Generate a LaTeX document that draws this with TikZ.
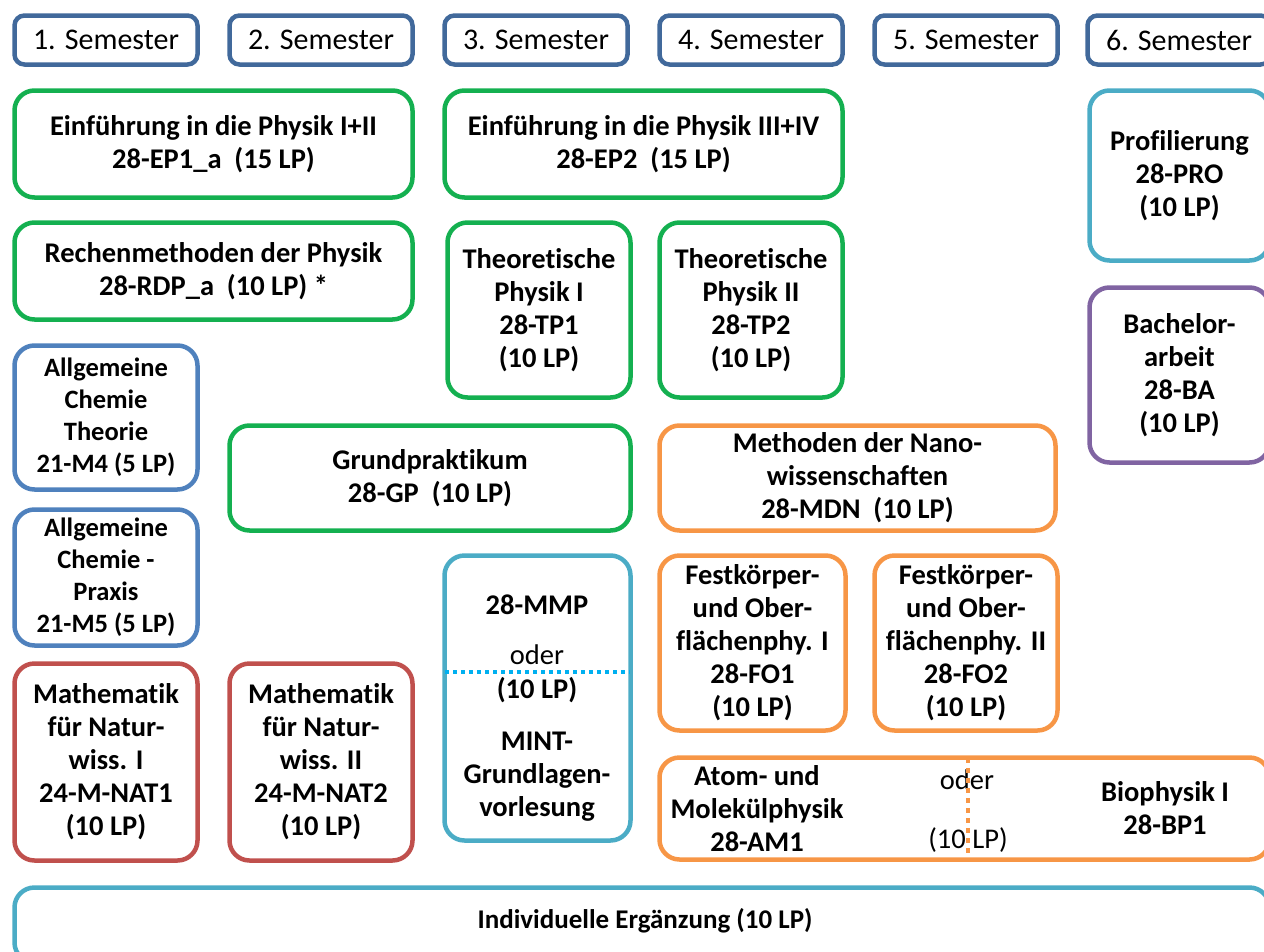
\documentclass[tikz,border=0pt]{standalone}
\usepackage{fontspec}
\setmainfont{Carlito}[Ligatures=NoCommon]
\definecolor{hdr}{RGB}{65,105,155}
\definecolor{grn}{RGB}{20,176,80}
\definecolor{blu}{RGB}{79,129,189}
\definecolor{red1}{RGB}{192,80,77}
\definecolor{org}{RGB}{247,150,70}
\definecolor{teal1}{RGB}{75,172,198}
\definecolor{pur}{RGB}{128,100,162}
\definecolor{cyn}{RGB}{0,176,240}
\tikzset{
  mbox/.style={draw, line width=4.5pt, rounded corners=20pt, align=center, inner sep=0pt,
    font=\fontsize{28.5}{33}\selectfont\bfseries, text=black},
  hbox/.style={draw=hdr, line width=4.5pt, rounded corners=10pt, inner sep=0pt,
    minimum width=183pt, minimum height=49pt, font=\fontsize{30}{33}\selectfont},
  txt/.style={align=center, inner sep=0pt, font=\fontsize{28.5}{33}\selectfont\bfseries},
}
\begin{document}
\begin{tikzpicture}[x=1pt,y=-1pt]
\useasboundingbox (0,0) rectangle (1264,951);
% semester headers
\node[hbox] (s1) at (106,40) {1. Semester};
\node[hbox] (s2) at (321,40) {2. Semester};
\node[hbox] (s3) at (536,40) {3. Semester};
\node[hbox] (s4) at (751,40) {4. Semester};
\node[hbox] (s5) at (966,40) {5. Semester};
\node[hbox] (s6) at (1179,40) {6. Semester};
% row boxes
\node[mbox, draw=grn, minimum width=398pt, minimum height=107pt] (ep1) at (213.5,144) {Einführung in die Physik I+II\\28-EP1\_a~~(15 LP)};
\node[mbox, draw=grn, minimum width=398pt, minimum height=107pt] (ep2) at (643.5,144) {Einführung in die Physik III+IV\\28-EP2~~(15 LP)};
\node[mbox, draw=grn, minimum width=398pt, minimum height=97pt] (rdp) at (213.5,271) {Rechenmethoden der Physik\\28-RDP\_a~~(10 LP) *};
\node[mbox, draw=grn, minimum width=183pt, minimum height=175pt] (tp1) at (539,310) {Theoretische\\Physik I\\28-TP1\\(10 LP)};
\node[mbox, draw=grn, minimum width=183pt, minimum height=175pt] (tp2) at (751,310) {Theoretische\\Physik II\\28-TP2\\(10 LP)};
\node[mbox, draw=blu, minimum width=183pt, minimum height=144pt, font=\fontsize{26.5}{32}\selectfont\bfseries] (act) at (106,417.5) {Allgemeine\\Chemie\\Theorie\\21-M4 (5 LP)};
\node[mbox, draw=blu, minimum width=183pt, minimum height=136pt, font=\fontsize{26.5}{32}\selectfont\bfseries] (acp) at (106,577.5) {Allgemeine\\Chemie -\\Praxis\\21-M5 (5 LP)};
\node[mbox, draw=grn, minimum width=401pt, minimum height=105pt] (gp) at (430,478) {Grundpraktikum\\28-GP~~(10 LP)};
\node[mbox, draw=org, minimum width=396pt, minimum height=105pt] (mdn) at (857.5,478) {Methoden der Nano-\\wissenschaften\\28-MDN~~(10 LP)};
\node[mbox, draw=teal1, minimum width=186pt, minimum height=285pt] (mmp) at (537.5,698) {};
\node[mbox, draw=org, minimum width=186pt, minimum height=175pt] (fo1) at (752.5,643) {Festkörper-\\und Ober-\\flächenphy. I\\28-FO1\\(10 LP)};
\node[mbox, draw=org, minimum width=183pt, minimum height=175pt] (fo2) at (966,643) {Festkörper-\\und Ober-\\flächenphy. II\\28-FO2\\(10 LP)};
\node[mbox, draw=red1, minimum width=183pt, minimum height=197pt] (m1) at (106,762) {Mathematik\\für Natur-\\wiss. I\\24-M-NAT1\\(10 LP)};
\node[mbox, draw=red1, minimum width=183pt, minimum height=197pt] (m2) at (321,762) {Mathematik\\für Natur-\\wiss. II\\24-M-NAT2\\(10 LP)};
\node[mbox, draw=org, minimum width=610pt, minimum height=102pt] (ambp) at (964.5,808.5) {};
\node[mbox, draw=teal1, minimum width=180pt, minimum height=170pt] (pro) at (1179.5,175.5) {Profilierung\\28-PRO\\(10 LP)};
\node[mbox, draw=pur, minimum width=180pt, minimum height=175pt] (ba) at (1179.5,375) {Bachelor-\\arbeit\\28-BA\\(10 LP)};
\node[mbox, draw=teal1, minimum width=1255pt, minimum height=75pt] (ie) at (642,925) {};
\node[txt, font=\fontsize{27}{30}\selectfont\bfseries] (ietxt) at (645,921) {Individuelle Ergänzung (10 LP)};
% MMP contents
\coordinate (mmpl) at (445,672);
\coordinate (mmpr) at (630,672);
\draw[cyn, line width=4pt, dash pattern=on 4pt off 4pt] (mmpl) -- (mmpr);
\node[txt] (mmp1) at (537,605) {28-MMP};
\node[txt, font=\fontsize{28.5}{33}\selectfont] (mmp2) at (537,655) {oder};
\node[txt] (mmp3) at (537,690) {(10 LP)};
\node[txt] (mmp4) at (537,777) {MINT-\\Grundlagen-\\vorlesung};
% AM / BP contents
\coordinate (ambt) at (968,758);
\coordinate (ambb) at (968,860);
\node[txt] (am) at (757,809) {Atom- und\\Molekülphysik\\28-AM1};
\node[txt, font=\fontsize{28.5}{33}\selectfont] (oder2) at (967,780) {oder};
\node[txt, font=\fontsize{28.5}{33}\selectfont] (lp2) at (968,840) {(10 LP)};
\draw[org, line width=4pt, dash pattern=on 5pt off 5pt] (ambt) -- (ambb);
\node[txt] (bp) at (1165,808) {Biophysik I\\28-BP1};
\end{tikzpicture}
\end{document}
